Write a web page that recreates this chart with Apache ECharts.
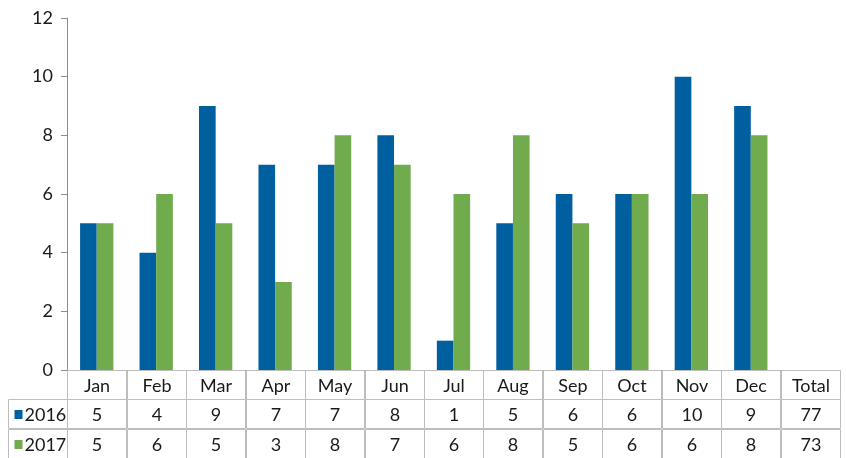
<!DOCTYPE html>
<html>
<head>
<meta charset="utf-8">
<script src="https://cdn.jsdelivr.net/npm/echarts@6/dist/echarts.min.js"></script>
<style>
  html, body { margin: 0; padding: 0; background: #fff; }
  #chart { width: 846px; height: 458px; }
</style>
</head>
<body>
<div id="chart"></div>
<script>
// 数据
const months = ['Jan', 'Feb', 'Mar', 'Apr', 'May', 'Jun', 'Jul', 'Aug', 'Sep', 'Oct', 'Nov', 'Dec']
const columns = months.concat(['Total'])
const seriesNames = ['2016', '2017']
const values2016 = [5, 4, 9, 7, 7, 8, 1, 5, 6, 6, 10, 9]
const values2017 = [5, 6, 5, 3, 8, 7, 6, 8, 5, 6, 6, 8]
const totals = [77, 73]
const yTicks = [0, 2, 4, 6, 8, 10, 12]

const colors = ['#005f9e', '#70ab4e']
const textColor = '#1a1a1a'
const font = 'Lato'

// 表格单元格: 第0列是行标题, 第0行是月份
const tableRows = [
  [''].concat(columns),
  [seriesNames[0]].concat(values2016.map(String), [String(totals[0])]),
  [seriesNames[1]].concat(values2017.map(String), [String(totals[1])])
]
const cells = []
tableRows.forEach((row, r) => {
  row.forEach((text, c) => {
    if (r === 0 && c === 0) return
    cells.push({ c, r, text })
  })
})

const chart = echarts.init(document.getElementById('chart'))

function renderCell(params, api) {
  const cell = cells[params.dataIndex]
  const p = api.coord([api.value(0), api.value(1)])
  const s = api.size([1, 1])
  const x0 = Math.round(p[0] - s[0] / 2) + 0.5
  const y0 = Math.round(p[1] - s[1] / 2) + 0.5
  const w = Math.round(s[0])
  const h = Math.round(s[1])
  const children = [{
    type: 'rect',
    shape: { x: x0, y: y0, width: w, height: h },
    style: { fill: 'none', stroke: '#bdbdbd', lineWidth: 1 }
  }]
  if (cell.c === 0) {
    // 行标题带图例色块
    children.push({
      type: 'rect',
      shape: { x: x0 + 6, y: y0 + h / 2 - 4, width: 8, height: 9 },
      style: { fill: colors[cell.r - 1] }
    })
    children.push({
      type: 'text',
      style: {
        x: x0 + 16, y: y0 + h / 2 + 1, text: cell.text,
        fill: textColor, font: '18px ' + font,
        textAlign: 'left', textVerticalAlign: 'middle'
      }
    })
  } else {
    children.push({
      type: 'text',
      style: {
        x: x0 + w / 2, y: y0 + h / 2 + 1, text: cell.text,
        fill: textColor, font: '18px ' + font,
        textAlign: 'center', textVerticalAlign: 'middle'
      }
    })
  }
  return { type: 'group', children }
}

const option = {
  animation: false,
  textStyle: { fontFamily: font },
  grid: [
    { left: 67, right: 6, top: 18, bottom: 88, containLabel: false },
    { left: 8, right: 6, top: 370, bottom: 0, containLabel: false }
  ],
  xAxis: [
    {
      gridIndex: 0,
      type: 'category',
      data: columns,
      axisLine: { show: true, lineStyle: { color: '#8c8c8c', width: 1 } },
      axisTick: { show: false },
      axisLabel: { show: false },
      splitLine: { show: false }
    },
    {
      gridIndex: 1,
      type: 'category',
      data: [''].concat(columns),
      show: false
    }
  ],
  yAxis: [
    {
      gridIndex: 0,
      type: 'value',
      min: yTicks[0],
      max: yTicks[yTicks.length - 1],
      interval: 2,
      axisLine: { show: true, lineStyle: { color: '#8c8c8c', width: 1 } },
      axisTick: { show: true, length: 6, lineStyle: { color: '#8c8c8c' } },
      axisLabel: { color: textColor, fontSize: 18, fontFamily: font, margin: 14 },
      splitLine: { show: false }
    },
    {
      gridIndex: 1,
      type: 'category',
      data: ['', seriesNames[0], seriesNames[1]],
      inverse: true,
      show: false
    }
  ],
  series: [
    {
      name: seriesNames[0],
      type: 'bar',
      xAxisIndex: 0,
      yAxisIndex: 0,
      data: values2016,
      barWidth: '28%',
      barGap: '0%',
      itemStyle: { color: colors[0] }
    },
    {
      name: seriesNames[1],
      type: 'bar',
      xAxisIndex: 0,
      yAxisIndex: 0,
      data: values2017,
      barWidth: '28%',
      barGap: '0%',
      itemStyle: { color: colors[1] }
    },
    {
      name: 'table',
      type: 'custom',
      xAxisIndex: 1,
      yAxisIndex: 1,
      data: cells.map(cell => [cell.c, cell.r]),
      renderItem: renderCell,
      clip: false,
      z: 1
    }
  ]
}

chart.setOption(option)
</script>
</body>
</html>
